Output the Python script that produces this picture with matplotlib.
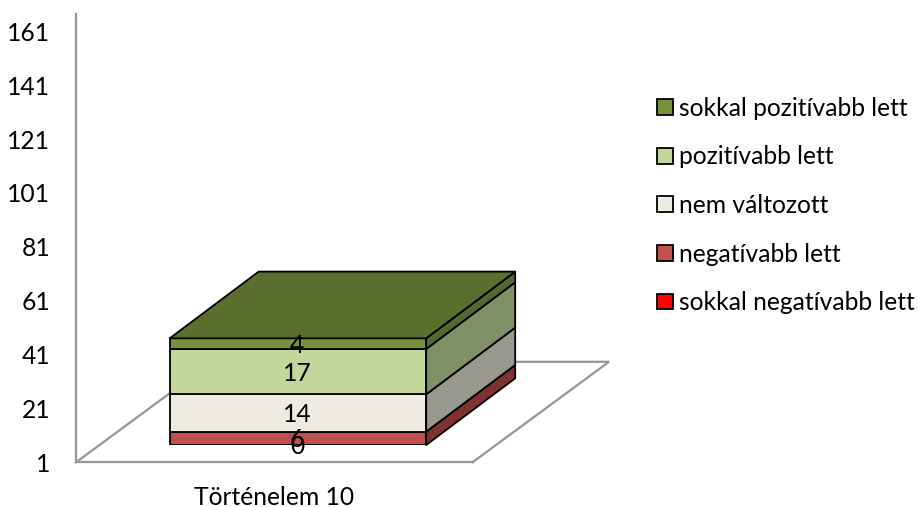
import matplotlib
matplotlib.use("Agg")
import matplotlib.pyplot as plt
from matplotlib.patches import Polygon, Patch
from matplotlib.lines import Line2D

plt.rcParams['font.family'] = ['Lato', 'DejaVu Sans']

category = "Történelem 10"
series_names = ["sokkal negatívabb lett", "negatívabb lett", "nem változott",
                "pozitívabb lett", "sokkal pozitívabb lett"]
series_values = [0, 6, 14, 17, 4]
front_colors = ["#FF0000", "#C0504D", "#EEECE1", "#C3D69B", "#76923C"]
side_colors = ["#990000", "#803232", "#99988F", "#7F8F66", "#56692C"]
top_color = "#5A6E2E"
y_ticks = [1, 21, 41, 61, 81, 101, 121, 141, 161]

W, H = 920, 507
FS = 17.7
fig = plt.figure(figsize=(W / 100, H / 100), dpi=100)


def rect(l, top, r, bottom):
    return [l / W, (H - bottom) / H, (r - l) / W, (bottom - top) / H]


# back axes: value axis wall and floor
wall_scale = 431 / 160
ax = fig.add_axes(rect(76, 14, 472.5, 462.3))
ax.set_xlim(-0.5, 0.5)
ax.set_ylim(1, 1 + (462.3 - 14) / wall_scale)
ax.patch.set_alpha(0)
for s in ("top", "right"):
    ax.spines[s].set_visible(False)
for s in ("left", "bottom"):
    ax.spines[s].set_color("#969696")
    ax.spines[s].set_linewidth(1.6)
ax.set_yticks(y_ticks)
ax.set_yticklabels([str(v) for v in y_ticks], fontsize=FS)
ax.set_xticks([0])
ax.set_xticklabels([category], fontsize=FS)
ax.tick_params(axis="y", length=0, pad=18.5)
ax.tick_params(axis="x", length=0, pad=17)

fw, fh = 396.5, 448.3
fx, fy = 136.5 / fw, 100.5 / fh
ax.add_line(Line2D([0, fx, 1 + fx, 1], [0, fy, fy, 0], transform=ax.transAxes,
                   color="#969696", lw=1.6, clip_on=False, solid_joinstyle="miter"))

# front plane axes: stacked bar with depth faces
front_scale = 106.7 / 40
left = 169.7 - (1 - 256.5 / 396.5) / 2 * 396.5
af = fig.add_axes(rect(left, 100, left + 396.5, 445))
af.set_xlim(-0.5, 0.5)
af.set_ylim(1, 1 + (445 - 100) / front_scale)
af.axis("off")

bar_w = 256.5 / 396.5
dx = 89 / 396.5
dy = 66.7 / front_scale
x0, x1 = -bar_w / 2, bar_w / 2

cum = 0
edge = dict(edgecolor="black", linewidth=1.3, joinstyle="round")
tops = []
for name, val, fc, sc in zip(series_names, series_values, front_colors, side_colors):
    lo = max(cum, 1)
    cum += val
    hi = max(cum, 1)
    tops.append((lo + hi) / 2)
    if hi > lo:
        af.bar(0, hi - lo, width=bar_w, bottom=lo, color=fc, zorder=3, **edge)
        af.add_patch(Polygon([(x1, lo), (x1 + dx, lo + dy), (x1 + dx, hi + dy), (x1, hi)],
                             closed=True, facecolor=sc, zorder=3, clip_on=False, **edge))
af.add_patch(Polygon([(x0, cum), (x0 + dx, cum + dy), (x1 + dx, cum + dy), (x1, cum)],
                     closed=True, facecolor=top_color, zorder=3, clip_on=False, **edge))
for val, ypos in zip(series_values, tops):
    af.annotate(str(val), (0, ypos), xytext=(-0.5, -1), textcoords="offset points",
                ha="center", va="center", fontsize=FS, color="black",
                zorder=5, annotation_clip=False)

handles = [Patch(facecolor=c, edgecolor="black", linewidth=1.3) for c in front_colors[::-1]]
fig.legend(handles, series_names[::-1], loc="center left",
           bbox_to_anchor=(657 / W, (H - 205.5) / H), frameon=False, fontsize=FS,
           handlelength=0.66, handleheight=0.62, handletextpad=0.23,
           labelspacing=1.04, borderpad=0, borderaxespad=0)

fig.savefig("out.png", dpi=100)
